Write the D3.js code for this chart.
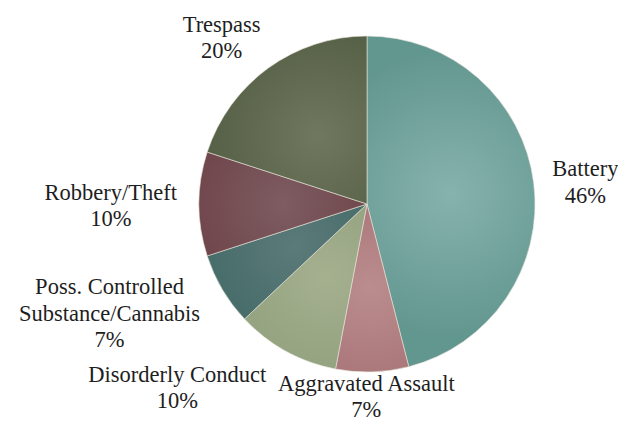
<!DOCTYPE html>
<html>
<head>
<meta charset="UTF-8">
<title>Offense Types</title>
<style>
  html, body { margin: 0; padding: 0; background: #fff; }
</style>
</head>
<body>
<svg id="svg" width="618" height="421" style="font-family: 'Liberation Serif'"></svg>
<script src="https://d3js.org/d3.v7.min.js"></script>
<script>
  // data
  const categories = ['Battery', 'Aggravated Assault', 'Disorderly Conduct', 'Poss. Controlled Substance/Cannabis', 'Robbery/Theft', 'Trespass']
  const labelLines = [['Battery'], ['Aggravated Assault'], ['Disorderly Conduct'], ['Poss. Controlled', 'Substance/Cannabis'], ['Robbery/Theft'], ['Trespass']]
  const shares = [46, 7, 10, 7, 10, 20]
  const innerColors = ['#87b2ad', '#bb8d8f', '#a5b08f', '#5b7a79', '#7d5c62', '#70785f']
  const outerColors = ['#62978f', '#a06a6e', '#8a9b78', '#3a6460', '#683a3e', '#4e5940']

  const cx = 367, cy = 204, R = 168
  const fontSize = 22.5, lineH = 26.5

  const svg = d3.select('#svg')
  const defs = svg.append('defs')

  const pie = d3.pie().sort(null).value(d => d)
  const arcs = pie(shares)
  const arc = d3.arc().innerRadius(0).outerRadius(R)

  const g = svg.append('g').attr('transform', `translate(${cx},${cy})`)

  arcs.forEach((a, i) => {
    const c = arc.centroid(a)
    const grad = defs.append('radialGradient')
      .attr('id', 'grad' + i)
      .attr('gradientUnits', 'userSpaceOnUse')
      .attr('cx', c[0]).attr('cy', c[1])
      .attr('fx', c[0]).attr('fy', c[1])
      .attr('r', R * 0.85)
    grad.append('stop').attr('offset', '0%').attr('stop-color', innerColors[i])
    grad.append('stop').attr('offset', '100%').attr('stop-color', outerColors[i])
  })

  g.selectAll('path')
    .data(arcs)
    .enter()
    .append('path')
    .attr('d', arc)
    .attr('fill', (d, i) => `url(#grad${i})`)
    .attr('stroke', '#e8e4d8')
    .attr('stroke-width', 0.6)

  // labels: placed just outside the rim, then nudged like the original "best fit"
  const pad = 8
  const nudge = [[11, 6], [-9, -7], [-62, 9], [-28, 2], [-14, 4], [-19, 0]]

  arcs.forEach((a, i) => {
    const mid = (a.startAngle + a.endAngle) / 2
    const s = Math.sin(mid), k = -Math.cos(mid)
    const lines = labelLines[i].concat([shares[i] + '%'])
    const t = g.append('text')
      .attr('text-anchor', 'middle')
      .style('font-family', '"Liberation Serif"')
      .style('font-size', fontSize + 'px')
      .style('fill', '#1e1e1e')
    lines.forEach((l, j) => {
      t.append('tspan')
        .attr('x', 0)
        .attr('dy', j === 0 ? 0 : lineH)
        .text(l)
    })
    const w = d3.max(t.selectAll('tspan').nodes(), n => n.getComputedTextLength())
    const h = lines.length * lineH
    const bx = (R + pad) * s + (w / 2) * s + nudge[i][0]
    const by = (R + pad) * k + (h / 2) * k + nudge[i][1]
    const top = by - h / 2 + fontSize * 0.8
    t.attr('transform', `translate(${bx},${top})`)
  })
</script>
</body>
</html>
